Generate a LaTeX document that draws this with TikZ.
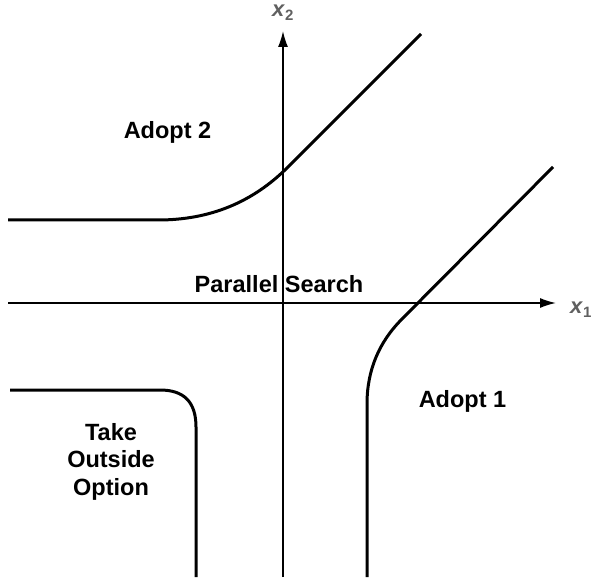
\documentclass[tikz,border=0pt]{standalone}
\usepackage{fontspec}
\setmainfont{Liberation Sans}
\usetikzlibrary{arrows.meta}
\definecolor{axisgray}{RGB}{96,96,96}

\begin{document}
\begin{tikzpicture}[x=1pt, y=-1pt, font=\fontsize{23.5}{27.5}\selectfont\bfseries,
  axis/.style={line width=1.5pt, -{Latex[length=16pt, width=10pt]}},
  border/.style={line width=3pt, line join=round},
  axislabel/.style={text=axisgray, inner sep=0pt, anchor=base west, font=\fontsize{22}{22}\selectfont\bfseries}]
  % Fix the frame of the picture
  \useasboundingbox (0,0) rectangle (592,580);

  % Define the end points of the axes
  \coordinate (Xl) at (8,303);
  \coordinate (Xr) at (556,303);
  \coordinate (Yb) at (283,577);
  \coordinate (Yt) at (283,31);
  % Draw the axes
  \draw[axis] (Xl) -- (Xr);
  \draw[axis] (Yb) -- (Yt);
  % Label the axes
  \node[axislabel] (x1) at (570,313) {\textit{x}\raisebox{-4pt}{\fontsize{15}{15}\selectfont 1}};
  \node[axislabel] (x2) at (272,17) {\textit{x}\raisebox{-4pt}{\fontsize{15}{15}\selectfont 2}};

  % Border of the region where 2 is adopted
  \coordinate (A2s) at (8,220);
  \coordinate (A2e) at (421,34);
  \draw[border] (A2s) -- (158,220) .. controls (210,220) and (252.7,202.3) .. (288,167) -- (A2e);

  % Border of the region where 1 is adopted
  \coordinate (A1s) at (553,167);
  \coordinate (A1e) at (367,577);
  \draw[border] (A1s) -- (402,319) .. controls (378.7,342.3) and (367,370.7) .. (367,404) -- (A1e);

  % Border of the outside option region
  \coordinate (OOs) at (10,390);
  \coordinate (OOe) at (196,577);
  \draw[border] (OOs) -- (160,390) .. controls (184,390) and (196,402) .. (196,427) -- (OOe);

  % Name the regions
  \node[anchor=base, inner sep=0pt] (adopt2) at (167.5,139) {Adopt 2};
  \node[anchor=base, inner sep=0pt] (adopt1) at (462.5,407) {Adopt 1};
  \node[anchor=base, inner sep=0pt] (search) at (279,292) {Parallel Search};
  \node[anchor=north, inner sep=0pt, align=center] (outside) at (111,423) {Take\\Outside\\Option};
\end{tikzpicture}
\end{document}
